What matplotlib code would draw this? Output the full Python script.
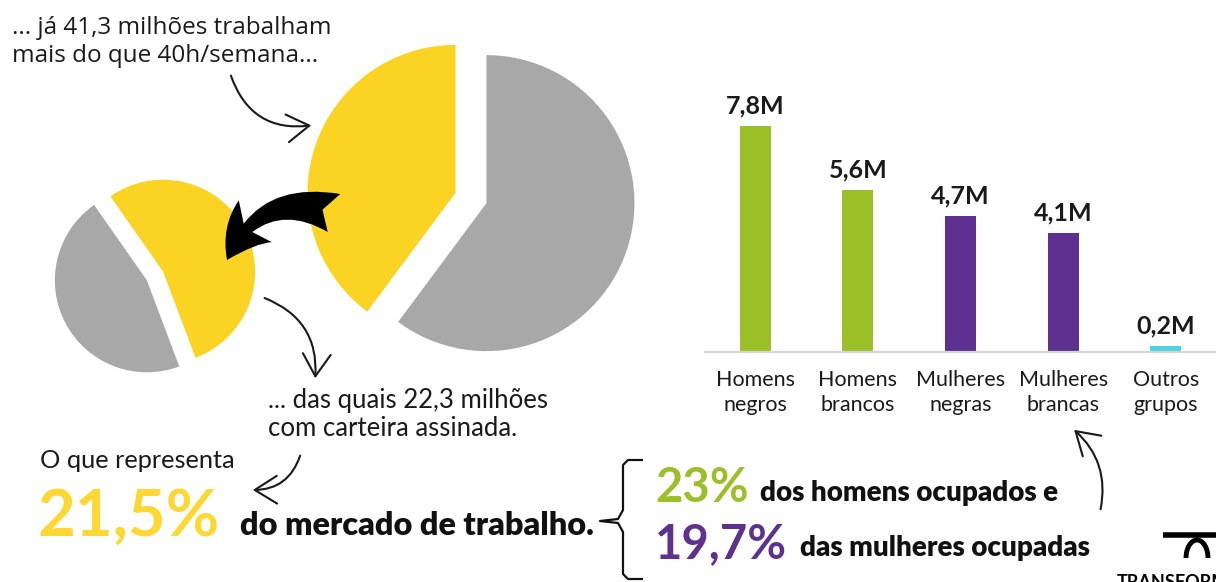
import matplotlib
matplotlib.use("Agg")
import matplotlib.pyplot as plt
from matplotlib.patches import FancyArrowPatch, Arc
import numpy as np

# ---------------- data ----------------
big_pie_labels = ["Mais de 40h/semana", "Demais ocupados"]
big_pie_values = [41.3, 62.4]          # milhões
small_pie_labels = ["Com carteira assinada", "Sem carteira"]
small_pie_values = [22.3, 19.0]        # milhões

bar_categories = ["Homens\nnegros", "Homens\nbrancos", "Mulheres\nnegras",
                  "Mulheres\nbrancas", "Outros\ngrupos"]
bar_values = [7.8, 5.6, 4.7, 4.1, 0.2]
bar_value_labels = ["7,8M", "5,6M", "4,7M", "4,1M", "0,2M"]

headline_pct = "21,5%"
men_pct = "23%"
women_pct = "19,7%"

# ---------------- style ----------------
YELLOW = "#FBD322"
GRAY = "#A8A8A8"
GREEN = "#9BBF27"
PURPLE = "#5E3190"
CYAN = "#4DD2E3"
BLACK = "#111111"
bar_colors = [GREEN, GREEN, PURPLE, PURPLE, CYAN]

plt.rcParams["font.family"] = ["Lato", "DejaVu Sans"]

W, H = 1216, 582
fig = plt.figure(figsize=(W / 100, H / 100), dpi=100)
fig.patch.set_facecolor("white")


def square_axes(cx, cy, half):
    return fig.add_axes([(cx - half) / W, 1 - (cy + half) / H,
                         2 * half / W, 2 * half / H])


# ---------------- big pie ----------------
R_big = 148
lim = 1.3
axp = square_axes(471, 198, R_big * lim)
axp.pie(big_pie_values, colors=[YELLOW, GRAY], startangle=90,
        counterclock=True, explode=[0.11, 0.11],
        wedgeprops=dict(linewidth=0))
axp.set_xlim(-lim, lim)
axp.set_ylim(-lim, lim)
axp.set_aspect("equal")
axp.axis("off")

# ---------------- small pie ----------------
R_small = 92
axs = square_axes(155, 276, R_small * lim)
axs.pie(small_pie_values, colors=[YELLOW, GRAY], startangle=125,
        counterclock=False, explode=[0.1, 0.1],
        wedgeprops=dict(linewidth=0))
axs.set_xlim(-lim, lim)
axs.set_ylim(-lim, lim)
axs.set_aspect("equal")
axs.axis("off")

# ---------------- bar chart ----------------
px_per_unit = 29.0
ax_bottom_px = 352
ymax = 9.4
axb = fig.add_axes([705 / W, 1 - ax_bottom_px / H, (W - 705) / W,
                    ymax * px_per_unit / H])
x = np.arange(len(bar_values))
axb.bar(x, bar_values, width=0.30, color=bar_colors, zorder=2)
axb.set_xlim(-0.49, len(bar_values) - 0.51)
axb.set_ylim(0, ymax)
for s in ["top", "right", "left"]:
    axb.spines[s].set_visible(False)
axb.spines["bottom"].set_color("#d4d4d4")
axb.spines["bottom"].set_linewidth(1.6)
axb.set_yticks([])
axb.set_xticks(x)
axb.set_xticklabels(bar_categories, fontsize=15.5, color="#1a1a1a",
                    linespacing=1.3)
axb.tick_params(axis="x", length=0, pad=13)
axb.patch.set_alpha(0)
for xi, v, lab in zip(x, bar_values, bar_value_labels):
    axb.annotate(lab, (xi, v), xytext=(0, 9), textcoords="offset points",
                 ha="center", va="baseline", fontsize=18, fontweight="bold",
                 color="#1a1a1a")

# ---------------- overlay axes in pixel coordinates (y downwards) ----------
ax = fig.add_axes([0, 0, 1, 1])
ax.set_xlim(0, W)
ax.set_ylim(H, 0)
ax.axis("off")
ax.set_zorder(10)

# ---------------- texts ----------------
ax.text(12, 62, "... já 41,3 milhões trabalham\nmais do que 40h/semana...",
        fontsize=17.5, color="#1a1a1a", va="baseline", ha="left",
        linespacing=1.2, family=["Open Sans", "DejaVu Sans"])
ax.text(268, 436, "... das quais 22,3 milhões\ncom carteira assinada.",
        fontsize=18.5, color="#1a1a1a", va="baseline", ha="left",
        linespacing=1.15)
ax.text(40, 468, "O que representa", fontsize=18.3, color="#1a1a1a",
        va="baseline", ha="left")
ax.text(38, 536, headline_pct, fontsize=47, fontweight="bold", color="#FDD732",
        va="baseline", ha="left")
ax.text(240, 535, "do mercado de trabalho.", fontsize=23.3, fontweight="heavy",
        color=BLACK, va="baseline", ha="left")
ax.text(655, 502, men_pct, fontsize=34, fontweight="bold", color=GREEN,
        va="baseline", ha="left")
ax.text(760, 501, "dos homens ocupados e", fontsize=20, fontweight="heavy",
        color=BLACK, va="baseline", ha="left")
ax.text(655, 558, women_pct, fontsize=34, fontweight="bold", color=PURPLE,
        va="baseline", ha="left")
ax.text(800, 556, "das mulheres ocupadas", fontsize=20, fontweight="heavy",
        color=BLACK, va="baseline", ha="left")

# ---------------- brace ----------------
brace_x = [643, 628, 623, 623, 618, 600, 618, 623, 623, 628, 643]
brace_y = [460, 460, 465, 510, 519, 521, 523, 532, 574, 579, 579]
ax.plot(brace_x, brace_y, color=BLACK, lw=1.6, solid_capstyle="butt")

# ---------------- thin arrows ----------------
thin = dict(arrowstyle="->,head_length=0.8,head_width=0.5",
            mutation_scale=20, lw=1.5, color="#1a1a1a")
for a, b, rad in [((230, 73), (314, 125), 0.42),
                  ((262, 297), (315, 381), -0.38),
                  ((301, 453), (250, 490), -0.38),
                  ((1100, 512), (1072, 428), 0.3)]:
    ax.add_patch(FancyArrowPatch(a, b, connectionstyle=f"arc3,rad={rad}",
                                 **thin))

# big black curved arrow
ax.add_patch(FancyArrowPatch((334, 213), (227, 260),
                             connectionstyle="arc3,rad=0.45",
                             arrowstyle="fancy,head_length=0.72,head_width=0.8,tail_width=0.6",
                             mutation_scale=48, color="black", lw=0,
                             shrinkA=0, shrinkB=0))

# ---------------- logo (partially cropped) ----------------
ax.plot([1163, 1216], [535, 535], color="black", lw=4, solid_capstyle="butt")
ax.add_patch(Arc((1197, 558), 22, 36, theta1=180, theta2=360, lw=3.5,
                 color="black"))
ax.text(1117, 574, "TRANSFORMA", fontsize=13, fontweight="bold", color="black",
        va="top", ha="left")

fig.savefig("out.png", dpi=100, facecolor="white")
